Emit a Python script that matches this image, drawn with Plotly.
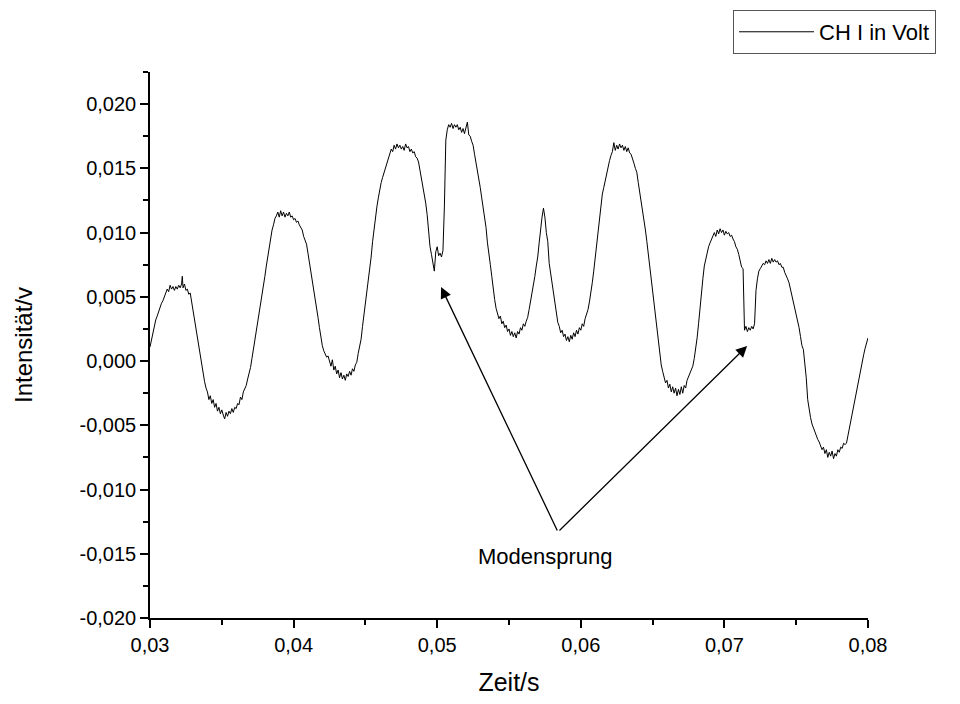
import plotly.graph_objects as go

# time (s) and channel I voltage (V)
zeit = [
0.0300,0.0301,0.0302,0.0303,0.0304,0.0305,0.0306,0.0307,0.0308,0.0309,
0.0310,0.0311,0.0312,0.0313,0.0314,0.0315,0.0316,0.0317,0.0318,0.0319,
0.0320,0.0321,0.0322,0.03225,0.0323,0.0324,0.0325,0.0326,0.0327,0.0328,0.0329,
0.0330,0.0331,0.0332,0.0333,0.0334,0.0335,0.0336,0.0337,0.0338,0.0339,
0.0340,0.0341,0.0342,0.0343,0.0344,0.0345,0.0346,0.0347,0.0348,0.0349,
0.0350,0.0351,0.0352,0.0353,0.0354,0.0355,0.0356,0.0357,0.0358,0.0359,
0.0360,0.0361,0.0362,0.0363,0.0364,0.0365,0.0366,0.0367,0.0368,0.0369,
0.0370,0.0371,0.0372,0.0373,0.0374,0.0375,0.0376,0.0377,0.0378,0.0379,
0.0380,0.0381,0.0382,0.0383,0.0384,0.0385,0.0386,0.0387,0.0388,0.0389,
0.0390,0.0391,0.0392,0.0393,0.0394,0.0395,0.0396,0.0397,0.0398,0.0399,
0.0400,0.0401,0.0402,0.0403,0.0404,0.0405,0.0406,0.0407,0.0408,0.0409,
0.0410,0.0411,0.0412,0.0413,0.0414,0.0415,0.0416,0.0417,0.0418,0.0419,
0.0420,0.0421,0.0422,0.0423,0.0424,0.0425,0.0426,0.0427,0.0428,0.0429,
0.0430,0.0431,0.0432,0.0433,0.0434,0.0435,0.0436,0.0437,0.0438,0.0439,
0.0440,0.0441,0.0442,0.0443,0.0444,0.0445,0.0446,0.0447,0.0448,0.0449,
0.0450,0.0451,0.0452,0.0453,0.0454,0.0455,0.0456,0.0457,0.0458,0.0459,
0.0460,0.0461,0.0462,0.0463,0.0464,0.0465,0.0466,0.0467,0.0468,0.0469,
0.0470,0.0471,0.0472,0.0473,0.0474,0.0475,0.0476,0.0477,0.0478,0.0479,
0.0480,0.0481,0.0482,0.0483,0.0484,0.0485,0.0486,0.0487,0.0488,0.0489,
0.0490,0.0491,0.0492,0.0493,0.0494,0.0495,0.0496,0.0497,0.0498,0.0499,
0.0500,0.0501,0.0502,0.0503,0.0504,0.0505,0.05055,0.0506,0.0507,0.0508,0.0509,
0.0510,0.0511,0.0512,0.0513,0.0514,0.0515,0.0516,0.0517,0.0518,0.0519,
0.0520,0.0521,0.0522,0.0523,0.0524,0.0525,0.0526,0.0527,0.0528,0.0529,
0.0530,0.0531,0.0532,0.0533,0.0534,0.0535,0.0536,0.0537,0.0538,0.0539,
0.0540,0.0541,0.0542,0.0543,0.0544,0.0545,0.0546,0.0547,0.0548,0.0549,
0.0550,0.0551,0.0552,0.0553,0.0554,0.0555,0.0556,0.0557,0.0558,0.0559,
0.0560,0.0561,0.0562,0.0563,0.0564,0.0565,0.0566,0.0567,0.0568,0.0569,
0.0570,0.0571,0.0572,0.0573,0.0574,0.0575,0.0576,0.0577,0.0578,0.0579,
0.0580,0.0581,0.0582,0.0583,0.0584,0.0585,0.0586,0.0587,0.0588,0.0589,
0.0590,0.0591,0.0592,0.0593,0.0594,0.0595,0.0596,0.0597,0.0598,0.0599,
0.0600,0.0601,0.0602,0.0603,0.0604,0.0605,0.0606,0.0607,0.0608,0.0609,
0.0610,0.0611,0.0612,0.0613,0.0614,0.0615,0.0616,0.0617,0.0618,0.0619,
0.0620,0.0621,0.0622,0.0623,0.0624,0.0625,0.0626,0.0627,0.0628,0.0629,
0.0630,0.0631,0.0632,0.0633,0.0634,0.0635,0.0636,0.0637,0.0638,0.0639,
0.0640,0.0641,0.0642,0.0643,0.0644,0.0645,0.0646,0.0647,0.0648,0.0649,
0.0650,0.0651,0.0652,0.0653,0.0654,0.0655,0.0656,0.0657,0.0658,0.0659,
0.0660,0.0661,0.0662,0.0663,0.0664,0.0665,0.0666,0.0667,0.0668,0.0669,
0.0670,0.0671,0.0672,0.0673,0.0674,0.0675,0.0676,0.0677,0.0678,0.0679,
0.0680,0.0681,0.0682,0.0683,0.0684,0.0685,0.0686,0.0687,0.0688,0.0689,
0.0690,0.0691,0.0692,0.0693,0.0694,0.0695,0.0696,0.0697,0.0698,0.0699,
0.0700,0.0701,0.0702,0.0703,0.0704,0.0705,0.0706,0.0707,0.0708,0.0709,
0.0710,0.0711,0.0712,0.0713,0.07135,0.0714,0.0715,0.0716,0.0717,0.0718,0.0719,
0.0720,0.0721,0.0722,0.0723,0.0724,0.0725,0.0726,0.0727,0.0728,0.0729,
0.0730,0.0731,0.0732,0.0733,0.0734,0.0735,0.0736,0.0737,0.0738,0.0739,
0.0740,0.0741,0.0742,0.0743,0.0744,0.0745,0.0746,0.0747,0.0748,0.0749,
0.0750,0.0751,0.0752,0.0753,0.0754,0.0755,0.0756,0.0757,0.0758,0.0759,
0.0760,0.0761,0.0762,0.0763,0.0764,0.0765,0.0766,0.0767,0.0768,0.0769,
0.0770,0.0771,0.0772,0.0773,0.0774,0.0775,0.0776,0.0777,0.0778,0.0779,
0.0780,0.0781,0.0782,0.0783,0.0784,0.0785,0.0786,0.0787,0.0788,0.0789,
0.0790,0.0791,0.0792,0.0793,0.0794,0.0795,0.0796,0.0797,0.0798,0.0799,
0.0800,
]

spannung = [
0.0011,0.0016,0.0023,0.0026,0.0032,0.0035,0.0039,0.0042,0.0045,0.0047,
0.0050,0.0052,0.0056,0.0054,0.0059,0.0056,0.0058,0.0055,0.0058,0.0056,
0.0059,0.0057,0.0060,0.0066,0.0057,0.0060,0.0055,0.0056,0.0052,0.0053,0.0046,
0.0040,0.0033,0.0026,0.0017,0.0011,0.0004,-0.0004,-0.0010,-0.0016,-0.0021,
-0.0024,-0.0030,-0.0027,-0.0033,-0.0030,-0.0036,-0.0033,-0.0039,-0.0036,-0.0041,
-0.0038,-0.0042,-0.0045,-0.0040,-0.0043,-0.0039,-0.0041,-0.0037,-0.0040,-0.0036,
-0.0037,-0.0033,-0.0034,-0.0028,-0.0030,-0.0024,-0.0021,-0.0019,-0.0014,-0.0010,
-0.0005,0.0002,0.0009,0.0015,0.0021,0.0028,0.0035,0.0043,0.0050,0.0059,
0.0066,0.0074,0.0081,0.0088,0.0096,0.0102,0.0106,0.0111,0.0113,0.0116,
0.0112,0.0117,0.0113,0.0116,0.0112,0.0115,0.0113,0.0116,0.0112,0.0113,
0.0110,0.0111,0.0108,0.0109,0.0106,0.0104,0.0102,0.0097,0.0093,0.0091,
0.0084,0.0077,0.0072,0.0064,0.0056,0.0048,0.0042,0.0034,0.0026,0.0018,
0.0012,0.0008,0.0006,0.0003,0.0004,-0.0001,-0.0004,0.0001,-0.0007,-0.0004,
-0.0010,-0.0007,-0.0013,-0.0009,-0.0014,-0.0011,-0.0015,-0.0010,-0.0012,-0.0008,
-0.0011,-0.0006,-0.0008,-0.0003,-0.0001,0.0006,0.0011,0.0017,0.0027,0.0036,
0.0046,0.0054,0.0062,0.0069,0.0081,0.0093,0.0103,0.0112,0.0120,0.0127,
0.0134,0.0139,0.0143,0.0147,0.0150,0.0155,0.0159,0.0163,0.0165,0.0163,
0.0168,0.0165,0.0169,0.0166,0.0168,0.0165,0.0167,0.0164,0.0169,0.0166,
0.0167,0.0163,0.0165,0.0162,0.0163,0.0159,0.0158,0.0155,0.0149,0.0143,
0.0136,0.0129,0.0123,0.0114,0.0101,0.0089,0.0083,0.0076,0.0070,0.0085,
0.0089,0.0082,0.0084,0.0081,0.0086,0.0120,0.0159,0.0172,0.0180,0.0184,0.0182,
0.0185,0.0181,0.0184,0.0182,0.0184,0.0180,0.0182,0.0178,0.0181,0.0177,
0.0181,0.0186,0.0176,0.0175,0.0171,0.0168,0.0161,0.0155,0.0150,0.0143,
0.0135,0.0127,0.0120,0.0113,0.0104,0.0092,0.0085,0.0075,0.0066,0.0055,
0.0048,0.0041,0.0037,0.0033,0.0035,0.0029,0.0031,0.0026,0.0028,0.0023,
0.0025,0.0020,0.0023,0.0019,0.0022,0.0018,0.0023,0.0021,0.0026,0.0024,
0.0029,0.0027,0.0031,0.0034,0.0040,0.0046,0.0051,0.0057,0.0066,0.0074,
0.0081,0.0092,0.0103,0.0112,0.0119,0.0112,0.0100,0.0093,0.0076,0.0068,
0.0059,0.0050,0.0043,0.0038,0.0030,0.0027,0.0022,0.0024,0.0019,0.0021,
0.0016,0.0019,0.0015,0.0020,0.0017,0.0022,0.0019,0.0024,0.0021,0.0026,
0.0024,0.0029,0.0027,0.0033,0.0036,0.0040,0.0046,0.0052,0.0061,0.0070,
0.0080,0.0091,0.0099,0.0111,0.0121,0.0130,0.0135,0.0141,0.0146,0.0151,
0.0156,0.0160,0.0163,0.0170,0.0164,0.0168,0.0165,0.0169,0.0166,0.0168,
0.0164,0.0167,0.0163,0.0166,0.0162,0.0161,0.0158,0.0154,0.0150,0.0147,
0.0139,0.0132,0.0126,0.0118,0.0109,0.0102,0.0093,0.0083,0.0075,0.0065,
0.0055,0.0044,0.0036,0.0025,0.0015,0.0005,-0.0003,-0.0008,-0.0013,-0.0017,
-0.0015,-0.0021,-0.0018,-0.0024,-0.0020,-0.0025,-0.0021,-0.0027,-0.0022,-0.0026,
-0.0020,-0.0025,-0.0019,-0.0021,-0.0015,-0.0012,-0.0010,-0.0006,-0.0004,0.0002,
0.0009,0.0018,0.0029,0.0043,0.0055,0.0064,0.0074,0.0080,0.0085,0.0089,
0.0092,0.0095,0.0097,0.0100,0.0097,0.0102,0.0099,0.0103,0.0100,0.0102,
0.0098,0.0101,0.0099,0.0100,0.0097,0.0098,0.0095,0.0093,0.0089,0.0087,
0.0083,0.0079,0.0073,0.0072,0.0030,0.0024,0.0027,0.0023,0.0026,0.0024,0.0027,
0.0025,0.0029,0.0055,0.0064,0.0070,0.0072,0.0074,0.0076,0.0075,0.0078,
0.0076,0.0079,0.0076,0.0080,0.0077,0.0079,0.0077,0.0078,0.0075,0.0076,
0.0073,0.0073,0.0069,0.0067,0.0064,0.0061,0.0056,0.0052,0.0047,0.0042,
0.0036,0.0032,0.0026,0.0019,0.0012,0.0009,-0.0002,-0.0013,-0.0030,-0.0038,
-0.0044,-0.0049,-0.0052,-0.0056,-0.0058,-0.0061,-0.0063,-0.0066,-0.0069,-0.0067,
-0.0072,-0.0069,-0.0075,-0.0071,-0.0074,-0.0070,-0.0076,-0.0072,-0.0074,-0.0069,
-0.0071,-0.0067,-0.0068,-0.0064,-0.0065,-0.0064,-0.0058,-0.0054,-0.0049,-0.0043,
-0.0036,-0.0030,-0.0022,-0.0017,-0.0010,-0.0004,0.0002,0.0005,0.0010,0.0014,
0.0018,
]

x_tickvals = [0.03, 0.04, 0.05, 0.06, 0.07, 0.08]
x_ticktext = ["0,03", "0,04", "0,05", "0,06", "0,07", "0,08"]
y_tickvals = [-0.020, -0.015, -0.010, -0.005, 0.0, 0.005, 0.010, 0.015, 0.020]
y_ticktext = ["-0,020", "-0,015", "-0,010", "-0,005", "0,000", "0,005", "0,010", "0,015", "0,020"]

serie_name = "CH I in Volt"
x_title = "Zeit/s"
y_title = "Intensität/v"
annot_text = "Modensprung"

FONT = "Liberation Sans, Arial, sans-serif"

fig = go.Figure()
fig.add_trace(go.Scatter(
    x=zeit, y=spannung, mode="lines", name=serie_name,
    line=dict(color="black", width=1),
    showlegend=True,
))

axis_common = dict(
    showline=True, linecolor="black", linewidth=1.5,
    showgrid=False, zeroline=False, automargin=False,
    ticks="outside", ticklen=8, tickwidth=1.5, tickcolor="black",
    tickfont=dict(family=FONT, size=20, color="black"),
    mirror=False,
)

fig.update_xaxes(
    range=[0.03, 0.08], tickmode="array", tickvals=x_tickvals, ticktext=x_ticktext,
    minor=dict(tickmode="linear", tick0=0.03, dtick=0.005, ticklen=5, tickwidth=1.5,
               tickcolor="black", ticks="outside", showgrid=False),
    title=dict(text=x_title, font=dict(family=FONT, size=25, color="black"), standoff=20),
    **axis_common,
)
fig.update_yaxes(
    range=[-0.020, 0.0225], tickmode="array", tickvals=y_tickvals, ticktext=y_ticktext,
    minor=dict(tickmode="linear", tick0=0.0, dtick=0.0025, ticklen=5, tickwidth=1.5,
               tickcolor="black", ticks="outside", showgrid=False),
    title=dict(text=y_title, font=dict(family=FONT, size=24, color="black"), standoff=40),
    **axis_common,
)

# arrows: tail at the label, heads at the two mode jumps
tail_x, tail_y = 0.05841, -0.0133
for hx, hy in [(0.05027, 0.00576), (0.07158, 0.00117)]:
    fig.add_annotation(
        x=hx, y=hy, ax=tail_x, ay=tail_y, xref="x", yref="y", axref="x", ayref="y",
        showarrow=True, arrowhead=2, arrowsize=1.7, arrowwidth=1.3, arrowcolor="black",
        text="",
    )
fig.add_annotation(
    x=0.05751, y=-0.01524, xref="x", yref="y", text=annot_text, showarrow=False,
    font=dict(family=FONT, size=22, color="black"),
)

fig.update_layout(
    width=944, height=688,
    margin=dict(l=142, r=84, t=64, b=78, autoexpand=False),
    paper_bgcolor="white", plot_bgcolor="white",
    font=dict(family=FONT, color="black"),
    legend=dict(
        x=0.812, y=1.1136, xanchor="left", yanchor="top",
        bordercolor="#555555", borderwidth=1, bgcolor="white",
        font=dict(family=FONT, size=22, color="black"),
        itemwidth=75,
    ),
)

fig.write_html("out.html")
